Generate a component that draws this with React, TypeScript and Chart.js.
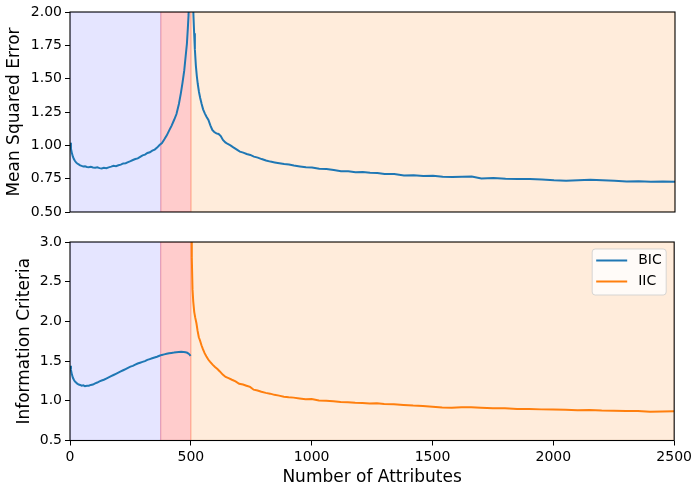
import React, { useEffect, useRef } from 'react';
import { Chart, registerables } from 'chart.js';

Chart.register(...registerables);

const FONT = "'DejaVu Sans', sans-serif";

// Shaded regions along the attribute axis
const regionEdges = [0, 375, 500, 2500];
const regionColors = ['rgba(0,0,255,0.1)', 'rgba(255,0,0,0.2)', 'rgba(255,127,14,0.15)'];

// [attributes, mean squared error]
const mseData: [number, number][] = [
  [1, 1.02], [4, 0.975], [8, 0.94], [12, 0.915], [16, 0.897], [20, 0.884], [25, 0.872], [30, 0.864],
  [36, 0.857], [42, 0.85], [48, 0.846], [55, 0.842], [62, 0.843], [70, 0.838], [78, 0.836], [86, 0.839],
  [95, 0.834], [104, 0.832], [113, 0.835], [122, 0.829], [131, 0.827], [140, 0.831], [150, 0.829],
  [160, 0.835], [170, 0.84], [180, 0.846], [190, 0.844], [200, 0.851], [210, 0.855], [220, 0.864],
  [230, 0.866], [240, 0.874], [250, 0.881], [260, 0.89], [270, 0.897], [280, 0.902], [290, 0.914],
  [300, 0.925], [310, 0.93], [320, 0.943], [330, 0.948], [340, 0.96], [350, 0.968], [360, 0.983],
  [370, 1.002], [380, 1.017], [390, 1.045], [400, 1.075], [410, 1.112], [420, 1.148], [430, 1.19],
  [440, 1.235], [450, 1.31], [458, 1.39], [465, 1.47], [472, 1.56], [478, 1.67], [483, 1.76],
  [487, 1.88], [490, 1.98], [494, 2.4], [499, 6], [503, 3.2], [507, 2.2], [510, 1.98], [513, 1.84],
  [516, 1.72], [520, 1.6], [524, 1.52], [528, 1.46], [533, 1.4], [538, 1.355], [544, 1.31], [550, 1.27],
  [557, 1.24], [564, 1.215], [572, 1.19], [580, 1.15], [588, 1.115], [596, 1.1], [605, 1.09],
  [614, 1.085], [623, 1.07], [632, 1.04], [642, 1.022], [652, 1.01], [663, 1.0], [675, 0.985],
  [688, 0.97], [702, 0.953], [716, 0.945], [730, 0.935], [745, 0.928], [760, 0.915], [776, 0.908],
  [792, 0.897], [810, 0.886], [828, 0.878], [846, 0.872], [865, 0.866], [885, 0.86], [905, 0.856],
  [925, 0.848], [950, 0.842], [975, 0.835], [1000, 0.834], [1030, 0.825], [1060, 0.823], [1090, 0.815],
  [1120, 0.805], [1150, 0.805], [1180, 0.798], [1210, 0.8], [1240, 0.795], [1270, 0.792], [1300, 0.785],
  [1340, 0.785], [1380, 0.774], [1420, 0.776], [1460, 0.77], [1500, 0.772], [1540, 0.764], [1580, 0.762],
  [1620, 0.765], [1660, 0.766], [1700, 0.752], [1750, 0.755], [1800, 0.75], [1850, 0.748], [1900, 0.748],
  [1950, 0.744], [2000, 0.738], [2050, 0.735], [2100, 0.738], [2150, 0.742], [2200, 0.738], [2250, 0.735],
  [2300, 0.728], [2350, 0.731], [2400, 0.727], [2450, 0.729], [2500, 0.727],
];

// [attributes, BIC]
const bicData: [number, number][] = [
  [1, 1.44], [4, 1.39], [8, 1.33], [12, 1.29], [16, 1.265], [20, 1.245], [25, 1.23], [30, 1.215],
  [36, 1.205], [42, 1.2], [48, 1.19], [55, 1.195], [62, 1.185], [70, 1.19], [78, 1.19], [86, 1.2],
  [95, 1.205], [104, 1.22], [113, 1.23], [122, 1.245], [131, 1.255], [140, 1.265], [150, 1.28],
  [160, 1.295], [170, 1.31], [180, 1.325], [190, 1.34], [200, 1.355], [210, 1.37], [220, 1.385],
  [230, 1.4], [240, 1.415], [250, 1.43], [260, 1.44], [270, 1.455], [280, 1.47], [290, 1.48],
  [300, 1.49], [310, 1.5], [320, 1.515], [330, 1.525], [340, 1.535], [350, 1.545], [360, 1.555],
  [370, 1.567], [380, 1.578], [390, 1.585], [400, 1.592], [410, 1.598], [420, 1.603], [430, 1.607],
  [440, 1.612], [450, 1.615], [460, 1.617], [470, 1.615], [478, 1.612], [485, 1.605], [490, 1.595],
  [495, 1.582], [499, 1.567],
];

// [attributes, IIC]
const iicData: [number, number][] = [
  [500, 8], [502, 3.6], [504, 2.8], [507, 2.4], [510, 2.25], [514, 2.12], [518, 2.05], [523, 1.98],
  [528, 1.88], [533, 1.8], [538, 1.76], [544, 1.7], [550, 1.65], [557, 1.6], [564, 1.56], [572, 1.52],
  [580, 1.49], [590, 1.455], [600, 1.425], [610, 1.4], [620, 1.37], [632, 1.33], [644, 1.3],
  [656, 1.285], [670, 1.265], [685, 1.245], [700, 1.215], [716, 1.205], [730, 1.19], [745, 1.175],
  [760, 1.14], [776, 1.13], [792, 1.115], [810, 1.1], [828, 1.09], [846, 1.075], [865, 1.065],
  [885, 1.052], [905, 1.045], [925, 1.04], [950, 1.03], [975, 1.02], [1000, 1.022], [1030, 1.005],
  [1060, 1.0], [1090, 0.995], [1120, 0.985], [1150, 0.982], [1180, 0.975], [1210, 0.972], [1240, 0.965],
  [1270, 0.968], [1300, 0.96], [1340, 0.955], [1380, 0.948], [1420, 0.94], [1460, 0.935], [1500, 0.925],
  [1540, 0.915], [1580, 0.912], [1620, 0.918], [1660, 0.92], [1700, 0.912], [1750, 0.905], [1800, 0.905],
  [1850, 0.898], [1900, 0.898], [1950, 0.892], [2000, 0.89], [2050, 0.888], [2100, 0.882], [2150, 0.885],
  [2200, 0.878], [2250, 0.875], [2300, 0.87], [2350, 0.872], [2400, 0.862], [2450, 0.865], [2500, 0.868],
];

const seriesNames = ['BIC', 'IIC'];
const seriesColors = ['#1f77b4', '#ff7f0e'];

const attrTicks = [0, 500, 1000, 1500, 2000, 2500];
const attrTickLabels = ['0', '500', '1000', '1500', '2000', '2500'];
const mseTicks = [0.5, 0.75, 1.0, 1.25, 1.5, 1.75, 2.0];
const mseTickLabels = ['0.50', '0.75', '1.00', '1.25', '1.50', '1.75', '2.00'];
const icTicks = [0.5, 1.0, 1.5, 2.0, 2.5, 3.0];
const icTickLabels = ['0.5', '1.0', '1.5', '2.0', '2.5', '3.0'];

const toPoints = (arr: [number, number][]) => arr.map(([x, y]) => ({ x, y }));

const regionsPlugin = {
  id: 'regions',
  beforeDatasetsDraw(chart: any) {
    const { ctx, chartArea: a, scales } = chart;
    const xs = scales.x;
    ctx.save();
    ctx.beginPath();
    ctx.rect(a.left, a.top, a.right - a.left, a.bottom - a.top);
    ctx.clip();
    for (let i = 0; i < regionColors.length; i++) {
      const x0 = xs.getPixelForValue(regionEdges[i]);
      const x1 = xs.getPixelForValue(regionEdges[i + 1]);
      ctx.fillStyle = regionColors[i];
      ctx.fillRect(x0, a.top, x1 - x0, a.bottom - a.top);
      ctx.strokeStyle = regionColors[i];
      ctx.lineWidth = 1.3;
      ctx.strokeRect(x0, a.top, x1 - x0, a.bottom - a.top);
    }
    ctx.restore();
  },
};

const framePlugin = {
  id: 'frame',
  afterDraw(chart: any) {
    const { ctx, chartArea: a } = chart;
    ctx.save();
    ctx.strokeStyle = '#000';
    ctx.lineWidth = 1.1;
    ctx.strokeRect(a.left, a.top, a.right - a.left, a.bottom - a.top);
    ctx.restore();
  },
};

const boxLegendPlugin = {
  id: 'boxLegend',
  afterDatasetsDraw(chart: any) {
    const { ctx, chartArea: a } = chart;
    const w = 74;
    const h = 46;
    const x = a.right - 8 - w;
    const y = a.top + 7;
    ctx.save();
    ctx.beginPath();
    if (ctx.roundRect) ctx.roundRect(x, y, w, h, 3);
    else ctx.rect(x, y, w, h);
    ctx.fillStyle = 'rgba(255,255,255,0.8)';
    ctx.fill();
    ctx.strokeStyle = 'rgba(204,204,204,0.8)';
    ctx.lineWidth = 1;
    ctx.stroke();
    chart.data.datasets.forEach((ds: any, i: number) => {
      const cy = y + 11.5 + i * 21;
      ctx.strokeStyle = ds.borderColor;
      ctx.lineWidth = 2;
      ctx.beginPath();
      ctx.moveTo(x + 4, cy);
      ctx.lineTo(x + 35, cy);
      ctx.stroke();
      ctx.fillStyle = '#000';
      ctx.font = `14px ${FONT}`;
      ctx.textBaseline = 'middle';
      ctx.textAlign = 'left';
      ctx.fillText(ds.label, x + 46, cy);
    });
    ctx.restore();
  },
};

const yAxis = (min: number, max: number, ticks: number[], labels: string[], title: string, titlePad: number) => ({
  type: 'linear' as const,
  min,
  max,
  afterFit: (s: any) => {
    s.width = 70;
  },
  afterBuildTicks: (s: any) => {
    s.ticks = ticks.map((v) => ({ value: v }));
  },
  grid: { drawOnChartArea: false, drawTicks: true, tickLength: 5, color: '#000', lineWidth: 1 },
  border: { display: false },
  ticks: {
    autoSkip: false,
    padding: 3,
    color: '#000',
    font: { size: 14, family: FONT },
    callback: (_v: any, i: number) => labels[i],
  },
  title: {
    display: true,
    text: title,
    color: '#000',
    font: { size: 17, family: FONT },
    padding: { top: titlePad, bottom: 0 },
  },
});

export default function App() {
  const topRef = useRef<HTMLCanvasElement | null>(null);
  const botRef = useRef<HTMLCanvasElement | null>(null);

  useEffect(() => {
    Chart.defaults.font.family = FONT;
    const top = new Chart(topRef.current as HTMLCanvasElement, {
      type: 'line',
      data: {
        datasets: [
          {
            label: 'MSE',
            data: toPoints(mseData),
            borderColor: seriesColors[0],
            borderWidth: 2,
            pointRadius: 0,
            fill: false,
            tension: 0,
            clip: 0,
          } as any,
        ],
      },
      options: {
        responsive: false,
        animation: false,
        events: [],
        layout: { padding: { top: 12, right: 20, bottom: 18, left: 0 } },
        plugins: { legend: { display: false }, tooltip: { enabled: false } },
        scales: {
          x: { type: 'linear', display: false, min: 0, max: 2500 },
          y: yAxis(0.5, 2.0, mseTicks, mseTickLabels, 'Mean Squared Error', 4) as any,
        },
      },
      plugins: [regionsPlugin, framePlugin],
    });

    const bot = new Chart(botRef.current as HTMLCanvasElement, {
      type: 'line',
      data: {
        datasets: [
          {
            label: seriesNames[0],
            data: toPoints(bicData),
            borderColor: seriesColors[0],
            borderWidth: 2,
            pointRadius: 0,
            fill: false,
            tension: 0,
            clip: 0,
          } as any,
          {
            label: seriesNames[1],
            data: toPoints(iicData),
            borderColor: seriesColors[1],
            borderWidth: 2,
            pointRadius: 0,
            fill: false,
            tension: 0,
            clip: 0,
          } as any,
        ],
      },
      options: {
        responsive: false,
        animation: false,
        events: [],
        layout: { padding: { top: 12, right: 20, bottom: 0, left: 0 } },
        plugins: { legend: { display: false }, tooltip: { enabled: false } },
        scales: {
          x: {
            type: 'linear',
            min: 0,
            max: 2500,
            afterFit: (s: any) => {
              s.height = 45.5;
            },
            afterBuildTicks: (s: any) => {
              s.ticks = attrTicks.map((v) => ({ value: v }));
            },
            grid: { drawOnChartArea: false, drawTicks: true, tickLength: 5, color: '#000', lineWidth: 1 },
            border: { display: false },
            ticks: {
              autoSkip: false,
              maxRotation: 0,
              padding: 3,
              color: '#000',
              font: { size: 14, family: FONT },
              callback: (_v: any, i: number) => attrTickLabels[i],
            },
            title: {
              display: true,
              text: 'Number of Attributes',
              color: '#000',
              font: { size: 17, family: FONT, lineHeight: 1 },
              padding: { top: 0, bottom: 0 },
            },
          } as any,
          y: yAxis(0.5, 3.0, icTicks, icTickLabels, 'Information Criteria', 14) as any,
        },
      },
      plugins: [regionsPlugin, boxLegendPlugin, framePlugin],
    });

    return () => {
      top.destroy();
      bot.destroy();
    };
  }, []);

  return (
    <div style={{ position: 'absolute', left: 0, top: 0, width: 695, height: 486, background: '#fff' }}>
      <canvas
        ref={topRef}
        width={695}
        height={230}
        style={{ position: 'absolute', left: 0, top: 0, width: 695, height: 230 }}
      />
      <canvas
        ref={botRef}
        width={695}
        height={256}
        style={{ position: 'absolute', left: 0, top: 230, width: 695, height: 256 }}
      />
    </div>
  );
}
